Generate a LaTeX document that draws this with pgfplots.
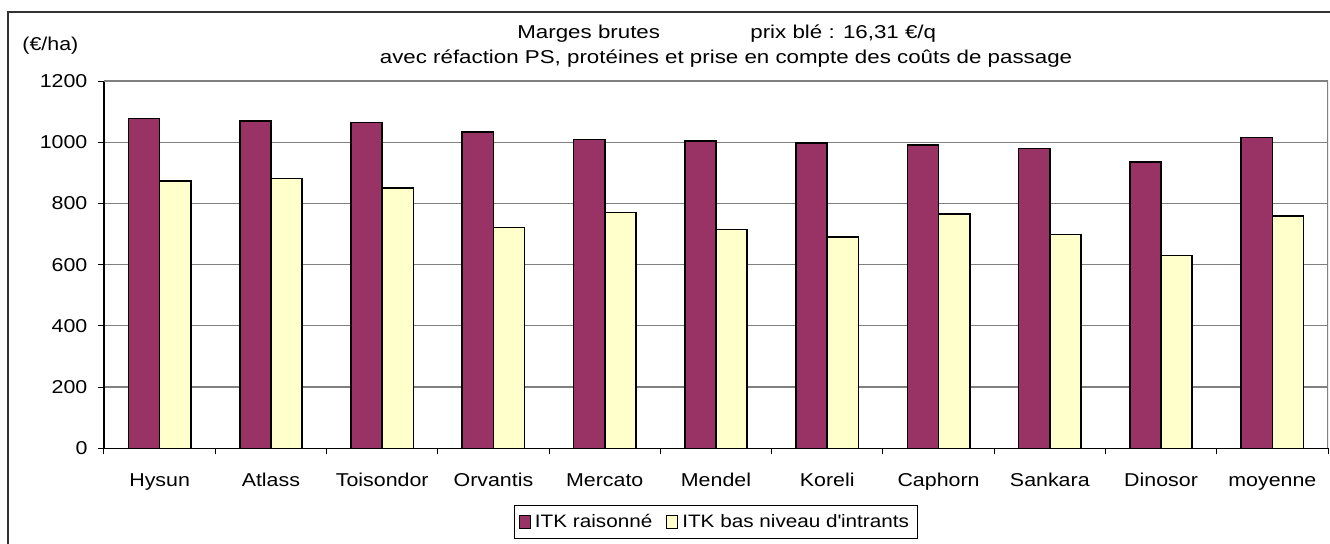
\documentclass[border=0pt]{standalone}
\usepackage{fontspec}
\setmainfont{Liberation Sans}[FakeStretch=1.15]
\newfontfamily\titlefont{Liberation Sans}[FakeStretch=1.2]
\usepackage{pgfplots}
\pgfplotsset{compat=1.18}
\definecolor{bred}{HTML}{993366}
\definecolor{byel}{HTML}{FFFFCC}
\definecolor{gridg}{HTML}{808080}
\pgfplotsset{sqleg/.style={legend image code/.code={\draw[##1, line width=0.5pt] (0pt,-3.25pt) rectangle (5.5pt,3.25pt);}}}
\begin{document}
\fontsize{9.3pt}{11pt}\selectfont
\begin{tikzpicture}[x=1pt,y=1pt]
\useasboundingbox (0,0) rectangle (665,271.5);
\draw[line width=1pt, black!80] (4,-2) -- (4,265.5) -- (667,265.5);
\node[anchor=base west, inner sep=0pt, font=\titlefont] at (258.5,252.5) {Marges brutes};
\node[anchor=base west, inner sep=0pt, font=\titlefont] at (375,252.5) {prix blé : 16,31 €/q};
\node[anchor=base, inner sep=0pt, font=\titlefont] at (363,240) {avec réfaction PS, protéines et prise en compte des coûts de passage};
\node[anchor=base west, inner sep=0pt] at (11,246.5) {(€/ha)};
\begin{axis}[
  at={(52pt,47.35pt)}, anchor=south west,
  scale only axis, width=612pt, height=183.65pt,
  xmin=-0.5, xmax=10.5, ymin=0, ymax=1200,
  ytick={0,200,...,1200},
  ymajorgrids, grid style={gridg, line width=0.6pt},
  axis x line*=bottom, axis y line*=left,
  axis line style={black, line width=0.6pt},
  tick align=outside, major tick length=3pt,
  tick style={black, line width=0.5pt},
  xtick={-0.5,0.5,...,10.5}, xticklabels={,,,,,,,,,,,,},
  extra x ticks={0,1,...,10},
  extra x tick labels={Hysun,Atlass,Toisondor,Orvantis,Mercato,Mendel,Koreli,Caphorn,Sankara,Dinosor,moyenne},
  extra x tick style={major tick length=0pt, xticklabel style={yshift=-9pt, text height=0.72em, text depth=0.2em}},
  /pgf/number format/assume math mode=true,
  /pgf/number format/1000 sep={},
  yticklabel style={xshift=-2pt},
  legend style={at={(0.5,-0.2007)}, anchor=center, draw=black, line width=0.5pt,
    inner xsep=2pt, inner ysep=2pt, font=\fontsize{9pt}{11pt}\selectfont},
  legend columns=2,
  /tikz/every even column/.append style={column sep=5pt},
]
\addplot[ybar, bar width=0.28, bar shift=-0.14, fill=bred, draw=black, line width=0.8pt, sqleg]
  coordinates {(0,1077) (1,1070) (2,1065) (3,1034) (4,1009) (5,1004) (6,997) (7,991) (8,979) (9,936) (10,1016)};
\addlegendentry{ITK raisonné}
\addplot[ybar, bar width=0.28, bar shift=0.14, fill=byel, draw=black, line width=0.8pt, sqleg]
  coordinates {(0,874) (1,881) (2,850) (3,722) (4,770) (5,715) (6,691) (7,765) (8,698) (9,630) (10,759)};
\addlegendentry{ITK bas niveau d\textquotesingle intrants}
\draw[gridg, line width=0.8pt] (rel axis cs:1,0) -- (rel axis cs:1,1);
\draw[gridg, line width=0.6pt] (rel axis cs:0,1) -- (rel axis cs:1,1);
\end{axis}
\end{tikzpicture}
\end{document}
